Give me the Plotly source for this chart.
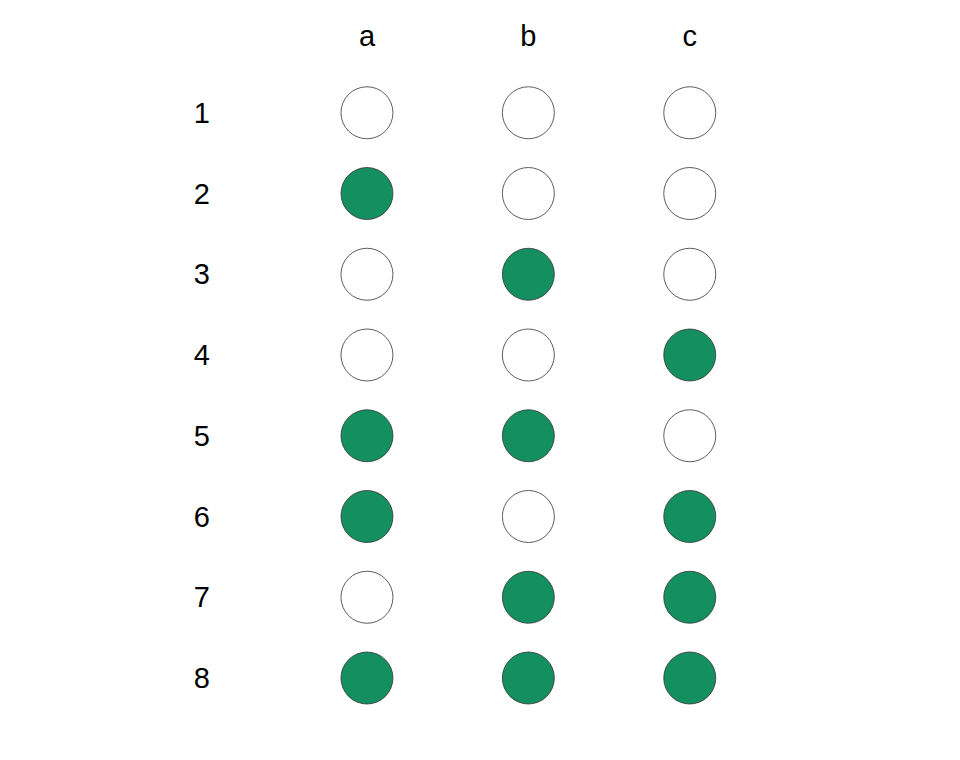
import plotly.graph_objects as go

columns = ["a", "b", "c"]
rows = [1, 2, 3, 4, 5, 6, 7, 8]
# membership matrix: rows x columns
filled = [
    [0, 0, 0],
    [1, 0, 0],
    [0, 1, 0],
    [0, 0, 1],
    [1, 1, 0],
    [1, 0, 1],
    [0, 1, 1],
    [1, 1, 1],
]

xs, ys, colors = [], [], []
for r, row in zip(rows, filled):
    for ci, v in enumerate(row):
        xs.append(ci + 1)
        ys.append(r)
        colors.append("#148F5F" if v else "white")

fig = go.Figure(go.Scatter(
    x=xs, y=ys, mode="markers",
    marker=dict(size=52, color=colors, line=dict(color="#333333", width=0.8)),
    hoverinfo="skip",
))

fig.update_layout(
    width=960, height=760,
    margin=dict(l=215, r=133, t=42, b=48),
    plot_bgcolor="white", paper_bgcolor="white",
    showlegend=False,
    font=dict(family="Liberation Sans, Arial", size=29, color="black"),
    xaxis=dict(side="top", range=[0.108, 3.9], tickvals=[1, 2, 3], ticktext=columns,
               showgrid=False, zeroline=False, showline=False, ticks="", ticklabelstandoff=0),
    yaxis=dict(range=[8.52, 0.26], tickvals=rows, ticktext=[str(r) for r in rows],
               showgrid=False, zeroline=False, showline=False, ticks="", ticklabelstandoff=12),
)
fig.write_html("out.html")
